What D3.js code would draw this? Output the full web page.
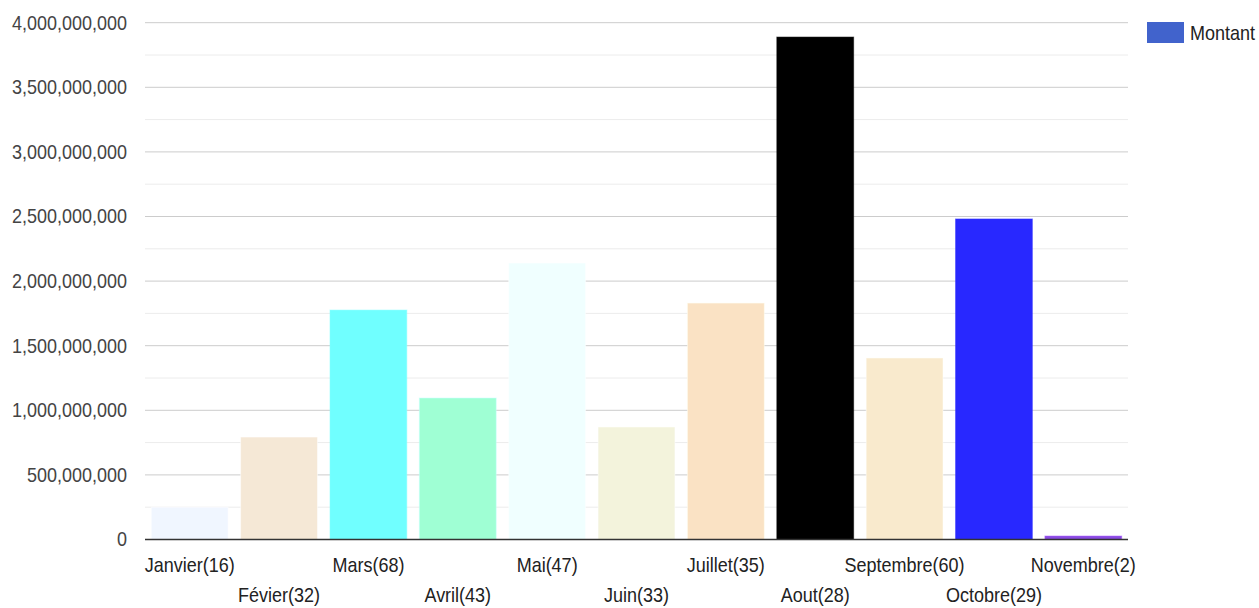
<!DOCTYPE html>
<html>
<head>
<meta charset="utf-8">
<script src="https://cdn.jsdelivr.net/npm/d3@7"></script>
<style>
  body { margin: 0; background: #fff; }
  svg { display: block; font-family: "Liberation Sans", Arial, sans-serif; }
</style>
</head>
<body>
<svg width="1259" height="608"></svg>
<script>
const months = ["Janvier", "Févier", "Mars", "Avril", "Mai", "Juin", "Juillet", "Aout", "Septembre", "Octobre", "Novembre"];
const counts = [16, 32, 68, 43, 47, 33, 35, 28, 60, 29, 2];
const montant = [250000000, 793000000, 1776000000, 1095000000, 2140000000, 871000000, 1830000000, 3889000000, 1405000000, 2481000000, 27000000];
const yTicks = [0, 500000000, 1000000000, 1500000000, 2000000000, 2500000000, 3000000000, 3500000000, 4000000000];
const seriesName = "Montant";

const barColors = ["#f0f6ff", "#f5e8d6", "#70ffff", "#9fffd4", "#f0ffff", "#f3f3dc", "#fae2c4", "#000000", "#f9eacd", "#2828ff", "#8a4be2"];

const labels = months.map((m, i) => `${m}(${counts[i]})`);

const plotLeft = 145, plotRight = 1128, plotTop = 22.7, plotBottom = 539.5;
const sx = 0.9; // text looks horizontally squeezed

const svg = d3.select("svg");

const x = d3.scaleBand()
  .domain(labels)
  .range([plotLeft, plotRight])
  .paddingInner(0.14)
  .paddingOuter(0.07);

const y = d3.scaleLinear()
  .domain([0, 4000000000])
  .range([plotBottom, plotTop]);

// minor grid lines
const minor = d3.range(250000000, 4000000000, 500000000);
svg.append("g")
  .selectAll("line")
  .data(minor)
  .enter().append("line")
  .attr("x1", plotLeft).attr("x2", plotRight)
  .attr("y1", d => y(d)).attr("y2", d => y(d))
  .style("stroke", "#ececec")
  .style("stroke-width", 1);

// major grid lines
svg.append("g")
  .selectAll("line")
  .data(yTicks.slice(1))
  .enter().append("line")
  .attr("x1", plotLeft).attr("x2", plotRight)
  .attr("y1", d => y(d)).attr("y2", d => y(d))
  .style("stroke", "#cccccc")
  .style("stroke-width", 1);

// bars
svg.append("g")
  .selectAll("rect")
  .data(montant)
  .enter().append("rect")
  .attr("x", (d, i) => x(labels[i]))
  .attr("width", x.bandwidth())
  .attr("y", d => y(d))
  .attr("height", d => plotBottom - y(d))
  .style("fill", (d, i) => barColors[i])
  .style("stroke", (d, i) => d3.color(barColors[i]).brighter(0.6))
  .style("stroke-opacity", 0.5)
  .style("stroke-width", 1);

// baseline
svg.append("line")
  .attr("x1", plotLeft).attr("x2", plotRight)
  .attr("y1", y(0)).attr("y2", y(0))
  .style("stroke", "#333")
  .style("stroke-width", 1.3);

// y axis
const yAxis = d3.axisLeft(y)
  .tickValues(yTicks)
  .tickFormat(d3.format(","))
  .tickSize(0)
  .tickPadding(18);
const gy = svg.append("g")
  .attr("transform", `translate(${plotLeft},0)`)
  .call(yAxis);
gy.select(".domain").remove();
gy.attr("font-family", null).attr("font-size", null);
gy.selectAll("text")
  .style("font-size", "20px")
  .style("fill", "#444")
  .attr("x", -18 / sx)
  .attr("transform", `scale(${sx},1)`);

// x axis, labels on two alternating rows
const xAxis = d3.axisBottom(x).tickSize(0).tickPadding(0);
const gx = svg.append("g")
  .attr("transform", `translate(0,${plotBottom})`)
  .call(xAxis);
gx.select(".domain").remove();
gx.attr("font-family", null).attr("font-size", null);
gx.selectAll("text")
  .style("font-size", "20px")
  .style("fill", "#222")
  .attr("dy", null)
  .attr("y", (d, i) => i % 2 === 0 ? 33 : 63)
  .attr("transform", `scale(${sx},1)`);

// legend
const legend = svg.append("g");
legend.append("rect")
  .attr("x", 1147).attr("y", 22)
  .attr("width", 37).attr("height", 21)
  .style("fill", "#4163cc");
legend.append("text")
  .attr("transform", `translate(1190,40) scale(${sx},1)`)
  .style("font-size", "20px")
  .style("fill", "#222")
  .text(seriesName);
</script>
</body>
</html>
